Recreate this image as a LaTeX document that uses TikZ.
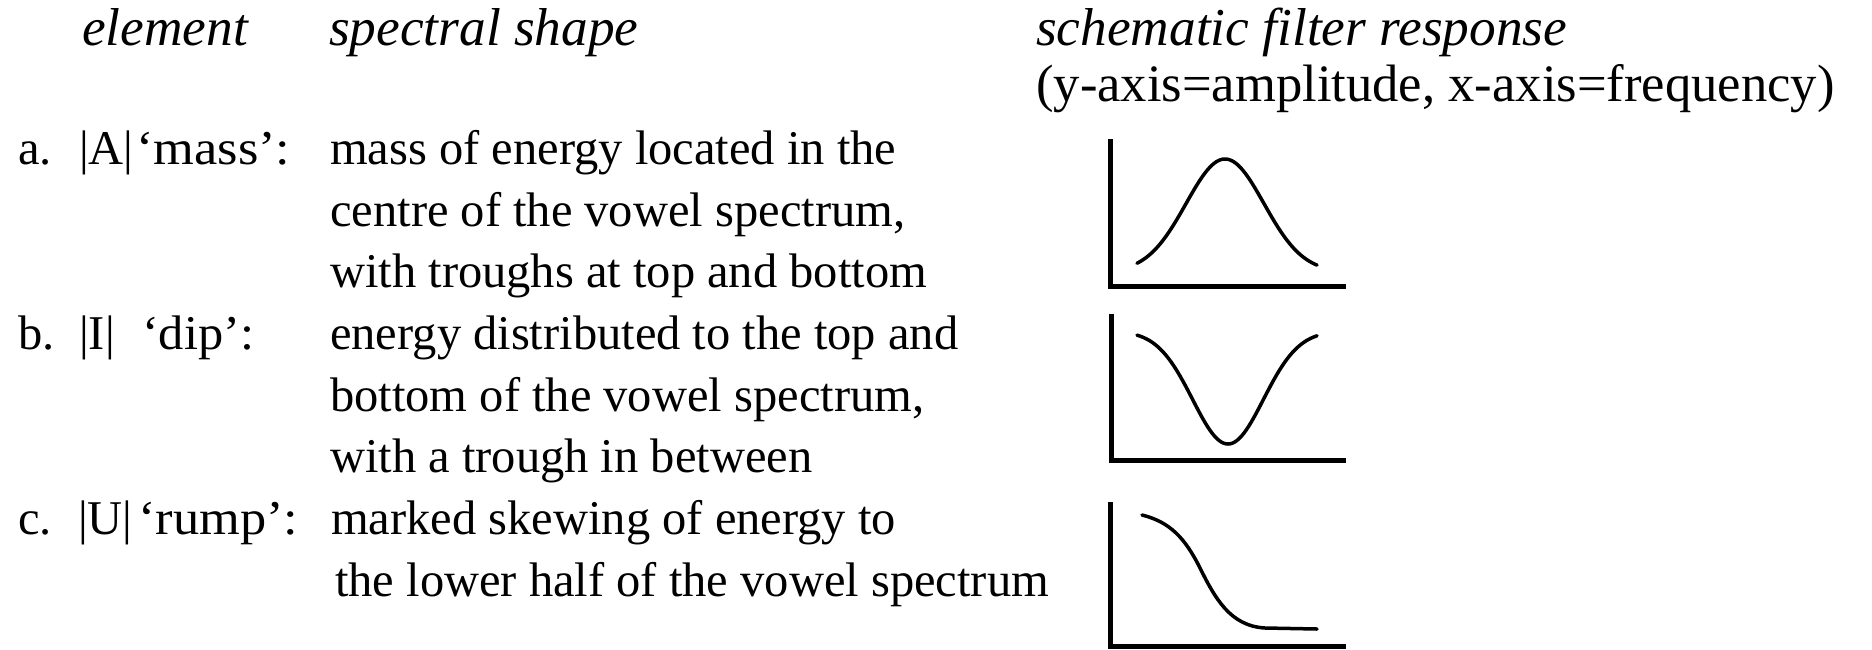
\documentclass[tikz,border=0pt]{standalone}
\usepackage{fontspec}
\setmainfont{Liberation Serif}
\begin{document}
\begin{tikzpicture}[x=1pt,y=-1pt,
  txt/.style={anchor=base west, inner sep=0pt, font=\fontsize{48.5}{58}\selectfont},
  hd/.style={anchor=base west, inner sep=0pt, font=\fontsize{53.3}{62}\selectfont\itshape},
  hdr/.style={anchor=base west, inner sep=0pt, font=\fontsize{52.6}{62}\selectfont},
  axis/.style={line width=5pt, line join=miter},
  curve/.style={line width=3.5pt, line cap=round, line join=round}]
\useasboundingbox (0,0) rectangle (1872,649);
% headers
\node[hd] (h1) at (82,45) {element};
\node[hd] (h2) at (329,45) {spectral shape};
\node[hd] (h3) at (1036,45) {schematic filter response};
\node[hdr] (h4) at (1036,101) {(y-axis=amplitude, x-axis=frequency)};
% row a
\node[txt] (la) at (18,164) {a.};
\node[txt] (ea) at (79,164) {|A|};
\node[txt] (na) at (136,164) {\scalebox{1.08}[1]{‘mass’:}};
\node[txt] (a1) at (330,164) {mass of energy located in the};
\node[txt] (a2) at (330,226) {centre of the vowel spectrum,};
\node[txt] (a3) at (330,287) {with troughs at top and bottom};
% row b
\node[txt] (lb) at (18,349) {b.};
\node[txt] (eb) at (79,349) {|I|};
\node[txt] (nb) at (142,349) {\scalebox{1.04}[1]{‘dip’:}};
\node[txt] (b1) at (330,349) {energy distributed to the top and};
\node[txt] (b2) at (330,411) {bottom of the vowel spectrum,};
\node[txt] (b3) at (330,472) {with a trough in between};
% row c
\node[txt] (lc) at (18,534) {c.};
\node[txt] (ec) at (78,534) {|U|};
\node[txt] (nc) at (138,534) {\scalebox{1.08}[1]{‘rump’:}};
\node[txt] (c1) at (331,534) {marked skewing of energy to};
\node[txt] (c2) at (335,596) {the lower half of the vowel spectrum};
% graph a
\coordinate (gat) at (1110,139);
\coordinate (gao) at (1110,286);
\coordinate (gar) at (1346,286);
\draw[axis] (gat) -- (gao) -- (gar);
\draw[curve] plot[domain=1137:1317, samples=80] (\x, {272-113*exp(-((\x-1225)/55)^2)});
% graph b
\coordinate (gbt) at (1111,314);
\coordinate (gbo) at (1111,460);
\coordinate (gbr) at (1346,460);
\draw[axis] (gbt) -- (gbo) -- (gbr);
\draw[curve] plot[domain=1137:1317, samples=80] (\x, {331+113*exp(-((\x-1228)/50)^2)});
% graph c
\coordinate (gct) at (1110,502);
\coordinate (gco) at (1110,646);
\coordinate (gcr) at (1346,646);
\draw[axis] (gct) -- (gco) -- (gcr);
\draw[curve] (1142,515) .. controls (1170,522) and (1185,538) .. (1200,568)
  .. controls (1215,598) and (1230,626) .. (1265,628) -- (1317,629);
\end{tikzpicture}
\end{document}
